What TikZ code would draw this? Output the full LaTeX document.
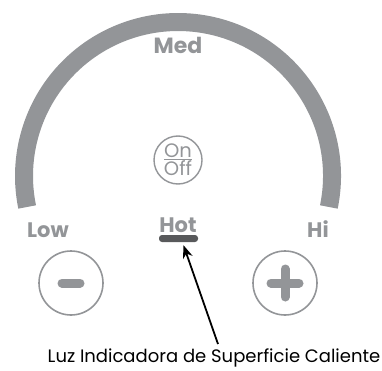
\documentclass[tikz,border=0pt]{standalone}
\usepackage{fontspec}
\setmainfont{Poppins}
\usepackage{tikz}
\usetikzlibrary{arrows.meta}
\definecolor{dialgray}{HTML}{939598}
\definecolor{ledgray}{HTML}{58595B}
\tikzset{
    label/.style={text=dialgray, font=\fontsize{21}{21}\selectfont\bfseries, inner sep=0pt, anchor=base},
    padring/.style={draw=dialgray, line width=1.6pt, circle, minimum size=64pt, inner sep=0pt},
    padmark/.style={draw=dialgray, line width=9pt, line cap=round},
    keytext/.style={text=dialgray, font=\fontsize{19.5}{19.5}\selectfont, inner sep=0pt, anchor=base},
}

\begin{document}
\begin{tikzpicture}[x=1pt, y=1pt]
    \useasboundingbox (0,0) rectangle (382,370);

    % Dial arc
    \draw[dialgray, line width=18pt] (178,194) ++(-11.6:154) arc (-11.6:191.6:154);

    % Labels
    \node[label, font=\fontsize{22}{22}\selectfont\bfseries] (med) at (178,316) {Med};
    \node[label] (low) at (48,133) {Low};
    \node[label] (hi) at (318,133) {Hi};
    \node[label] (hot) at (178,138) {Hot};

    % On/Off key
    \node[draw=dialgray, line width=1.4pt, circle, minimum size=48pt, inner sep=0pt] (onoff) at (178,210) {};
    \node[keytext] (on) at (178,213) {On};
    \node[keytext] (off) at (178,194.5) {Off};
    \draw[dialgray, line width=1.6pt] (164,210.5) -- (192,210.5);

    % Hot indicator light
    \node[fill=ledgray, rounded corners=3pt, minimum width=39pt, minimum height=7pt, inner sep=0pt] (hotbar) at (178.5,131.5) {};

    % Minus and plus pads
    \node[padring] (minus) at (71,87) {};
    \draw[padmark] ([xshift=-9pt]minus.center) -- ([xshift=9pt]minus.center);
    \node[padring] (plus) at (285,87) {};
    \draw[padmark] ([xshift=-14pt]plus.center) -- ([xshift=14pt]plus.center);
    \draw[padmark] ([yshift=-14pt]plus.center) -- ([yshift=14pt]plus.center);

    % Caption and pointer
    \node[font=\fontsize{18}{18}\selectfont, inner sep=0pt, anchor=base] (caption) at (214,8) {Luz Indicadora de Superficie Caliente};
    \draw[line width=1.8pt, -{Stealth[length=13pt, width=10pt]}] ([xshift=4pt, yshift=4pt]caption.north) -- ([xshift=5pt, yshift=-3pt]hotbar.south);
\end{tikzpicture}
\end{document}
